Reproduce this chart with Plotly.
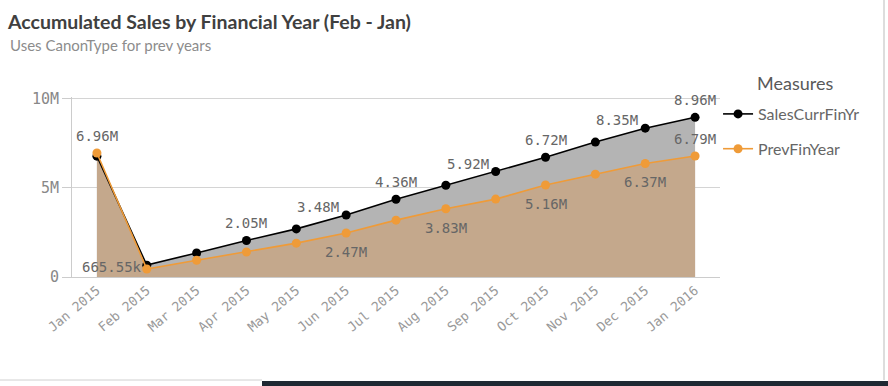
import plotly.graph_objects as go

# ---------------- data ----------------
months = ["Jan 2015", "Feb 2015", "Mar 2015", "Apr 2015", "May 2015", "Jun 2015",
          "Jul 2015", "Aug 2015", "Sep 2015", "Oct 2015", "Nov 2015", "Dec 2015", "Jan 2016"]
sales_curr_fin_yr = [6.78, 0.66555, 1.35, 2.05, 2.70, 3.48, 4.36, 5.15, 5.92, 6.72, 7.57, 8.35, 8.96]  # millions
prev_fin_year = [6.96, 0.45, 0.94, 1.40, 1.90, 2.47, 3.19, 3.83, 4.37, 5.16, 5.77, 6.37, 6.79]        # millions
curr_labels = [None, "665.55k", None, "2.05M", None, "3.48M", "4.36M", None, "5.92M", "6.72M", None, "8.35M", "8.96M"]
prev_labels = ["6.96M", None, None, None, None, "2.47M", None, "3.83M", None, "5.16M", None, "6.37M", "6.79M"]
y_tick_vals = [0, 5, 10]
y_tick_text = ["0", "5M", "10M"]

# ---------------- label placement (style) ----------------
curr_place = [None, "left", None, "above", None, "upleft", "above", None, "upleft", "above", None, "upleft", "above"]
prev_place = ["above", None, None, None, None, "below", None, "below", None, "below", None, "below", "above"]
shifts = {"above": (0, 17), "below": (0, -19), "upleft": (-28, 8), "left": (-35, -2)}

M = 1e6
curr_y = [v * M for v in sales_curr_fin_yr]
prev_y = [v * M for v in prev_fin_year]

BLACK = "#000000"
ORANGE = "#EF9B38"
MONO = "DejaVu Sans Mono"
SANS = "Lato"

fig = go.Figure()

# area fills
fig.add_trace(go.Scatter(x=months, y=curr_y, mode="none", fill="tozeroy",
                         fillcolor="rgb(180,180,180)", showlegend=False, hoverinfo="skip"))
fig.add_trace(go.Scatter(x=months, y=prev_y, mode="none", fill="tozeroy",
                         fillcolor="rgb(196,168,140)", showlegend=False, hoverinfo="skip"))
# lines + markers
fig.add_trace(go.Scatter(x=months, y=curr_y, mode="lines+markers", name="SalesCurrFinYr",
                         line=dict(color=BLACK, width=1.6), marker=dict(color=BLACK, size=9),
                         legendgroup="a"))
fig.add_trace(go.Scatter(x=months, y=prev_y, mode="lines+markers", name="PrevFinYear",
                         line=dict(color=ORANGE, width=1.6), marker=dict(color=ORANGE, size=9),
                         legendgroup="b"))

annotations = []
for labels, places, ys in ((curr_labels, curr_place, curr_y), (prev_labels, prev_place, prev_y)):
    for m, lab, pl, yv in zip(months, labels, places, ys):
        if lab is None:
            continue
        dx, dy = shifts[pl]
        annotations.append(dict(x=m, y=yv, xref="x", yref="y", text=lab, showarrow=False,
                                xshift=dx, yshift=dy, xanchor="center", yanchor="middle",
                                font=dict(family=MONO, size=14, color="#666666")))

# subtitle / legend title
annotations.append(dict(xref="paper", yref="paper", x=-0.0988, y=1.289, xanchor="left", yanchor="middle",
                        text="Uses CanonType for prev years", showarrow=False,
                        font=dict(family=SANS, size=15, color="#8c8c8c")))
annotations.append(dict(xref="paper", yref="paper", x=1.054, y=1.078, xanchor="left", yanchor="middle",
                        text="Measures", showarrow=False,
                        font=dict(family=SANS, size=18, color="#595959")))

shapes = [
    # right-hand page border
    dict(type="line", xref="paper", yref="paper", x0=(884 - 72) / 648, x1=(884 - 72) / 648,
         y0=(277 - 0) / 180, y1=(277 - 380) / 180, line=dict(color="#dddddd", width=2)),
    # bottom strip
    dict(type="line", xref="paper", yref="paper", x0=-72 / 648, x1=(262 - 72) / 648,
         y0=(277 - 380) / 180, y1=(277 - 380) / 180, line=dict(color="#d0d0d0", width=1)),
    dict(type="rect", xref="paper", yref="paper", x0=(262 - 72) / 648, x1=(888 - 72) / 648,
         y0=(277 - 381) / 180, y1=(277 - 390) / 180, fillcolor="#1f2933", line=dict(width=0)),
]

fig.update_layout(
    width=888, height=386,
    margin=dict(l=72, r=168, t=97, b=109),
    paper_bgcolor="white", plot_bgcolor="white",
    title=dict(text="<b>Accumulated Sales by Financial Year (Feb - Jan)</b>", xref="container", yref="container",
               x=8 / 888, y=1 - 22 / 386, xanchor="left", yanchor="middle",
               font=dict(family=SANS, size=19.5, color="#404040")),
    showlegend=True,
    legend=dict(x=0.997, y=1.0, xanchor="left", yanchor="top", tracegroupgap=11,
                font=dict(family=SANS, size=16, color="#666666"), bgcolor="rgba(0,0,0,0)"),
    annotations=annotations,
    shapes=shapes,
    hovermode=False,
)
fig.update_xaxes(type="category", range=[-0.5, 12.5], showgrid=False, showline=True,
                 linecolor="#cccccc", linewidth=1, ticks="", tickangle=-40,
                 tickfont=dict(family=MONO, size=13, color="#999999"), zeroline=False)
fig.update_yaxes(range=[0, 10.1e6], tickvals=[v * M for v in y_tick_vals], ticktext=y_tick_text,
                 showgrid=True, gridcolor="#d4d4d4", gridwidth=1, showline=True, linecolor="#cccccc",
                 ticks="outside", ticklen=9, tickcolor="#cccccc",
                 tickfont=dict(family=MONO, size=15, color="#888888"), zeroline=False)

fig.write_html("out.html", config={"displayModeBar": False},
               post_script="document.body.style.margin='0';document.body.style.overflow='hidden';")
